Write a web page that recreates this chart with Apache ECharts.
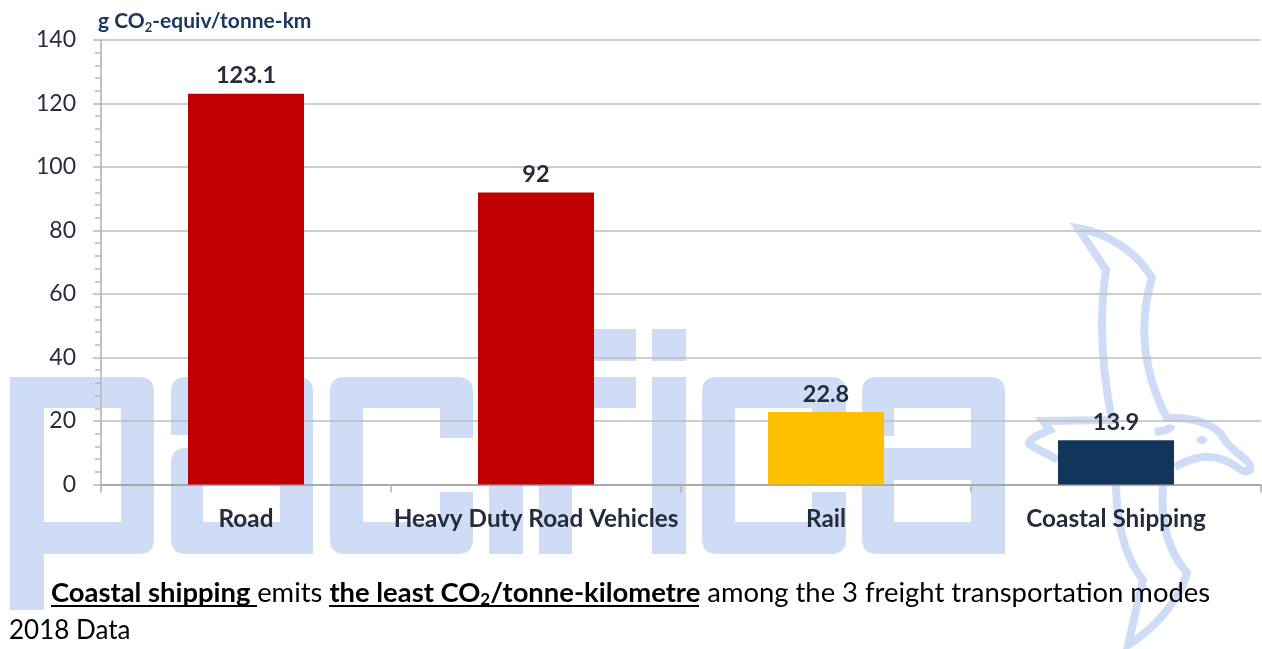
<!DOCTYPE html>
<html>
<head>
<meta charset="utf-8">
<title>CO2 per tonne-km by freight mode</title>
<script src="https://cdn.jsdelivr.net/npm/echarts@6/dist/echarts.min.js"></script>
<style>
  html, body { margin: 0; padding: 0; background: #fff; }
  #wrap { position: relative; width: 1262px; height: 649px; overflow: hidden; }
  #logo, #chart { position: absolute; left: 0; top: 0; width: 1262px; height: 649px; }
</style>
</head>
<body>
<div id="wrap">
  <!-- pacifica watermark, sits behind the transparent chart -->
  <svg id="logo" viewBox="0 0 1262 649">
    <g fill="#cfdcf5" fill-rule="evenodd">
      <path d="M10 377H139Q154 377 154 392V539Q154 554 139 554H44V610H10ZM44 408V522H121V408Z"/>
      <path d="M186 377H298Q313 377 313 392V554H186Q171 554 171 539V463Q171 448 186 448H280V408H203V435H171V392Q171 377 186 377ZM203 480V522H280V480Z"/>
      <path d="M345 377H458Q473 377 473 392V438H440V408H363V522H440V492H473V539Q473 554 458 554H345Q330 554 330 539V392Q330 377 345 377Z"/>
      <path d="M489 329H523V361H489ZM489 377H523V554H489Z"/>
      <path d="M554 329H636V361H572V377H636V408H572V554H539V344Q539 329 554 329Z"/>
      <path d="M652 329H686V361H652ZM652 377H686V554H652Z"/>
      <path d="M717 377H831Q846 377 846 392V438H812V408H735V522H812V492H846V539Q846 554 831 554H717Q702 554 702 539V392Q702 377 717 377Z"/>
      <path d="M877 377H990Q1005 377 1005 392V554H877Q862 554 862 539V463Q862 448 877 448H971V408H894V436H862V392Q862 377 877 377ZM894 480V522H971V480Z"/>
    </g>
    <g fill="none" stroke="#cfdcf5" stroke-width="8" stroke-linejoin="miter" stroke-miterlimit="12">
      <path d="M1058 460C1047 453 1037 450 1029 444C1028 440 1037 435 1050 430L1043 421L1112 420C1100 360 1100 310 1106 270L1078 228C1107 233 1137 252 1152 278C1140 317 1140 367 1167 418C1195 417 1210 423 1220 433C1228 447 1237 452 1248 462C1255 472 1245 474 1237 467C1218 454 1200 453 1175 467"/>
      <path d="M1172 425C1170 431 1160 431 1155 432"/>
      <path d="M1116 485C1117 527 1127 560 1143 580L1128 645C1153 630 1180 600 1187 573C1170 553 1160 527 1163 485"/>
    </g>
    <ellipse cx="1201.7" cy="440" rx="5.5" ry="4" fill="#cfdcf5"/>
  </svg>
  <div id="chart"></div>
</div>
<script>
const categories = ['Road', 'Heavy Duty Road Vehicles', 'Rail', 'Coastal Shipping'];
const emissions = [123.1, 92, 22.8, 13.9];
const barColors = ['#c00000', '#c00000', '#ffc000', '#12355b'];

const FONT = 'Lato, "Open Sans", sans-serif';
const TEXT_DARK = '#252d3c';

const chart = echarts.init(document.getElementById('chart'));

chart.setOption({
    animation: false,
    grid: { left: 101, top: 40, width: 1160, height: 444.5 },
    title: {
        left: 93,
        top: 3,
        text: '{a|g CO}{s|2}{a|-equiv/tonne-km}',
        textStyle: {
            rich: {
                a: { fontFamily: FONT, fontSize: 21, fontWeight: 'bold', color: '#17375e', lineHeight: 26 },
                s: { fontFamily: FONT, fontSize: 13, fontWeight: 'bold', color: '#17375e', lineHeight: 26, verticalAlign: 'bottom' }
            }
        }
    },
    xAxis: {
        type: 'category',
        data: categories,
        axisLine: { lineStyle: { color: '#9d9d9d', width: 1.5 } },
        axisTick: { show: true, length: 8, lineStyle: { color: '#b0b0b0', width: 1.5 } },
        axisLabel: { interval: 0, fontFamily: FONT, fontSize: 24.3, fontWeight: 'bold', color: TEXT_DARK, margin: 23 }
    },
    yAxis: {
        type: 'value',
        min: 0,
        max: 140,
        interval: 20,
        axisLine: { show: true, lineStyle: { color: '#c2c2c2', width: 2 } },
        axisTick: { show: true, length: 8, lineStyle: { color: '#b8b8b8', width: 1.5 } },
        minorTick: { show: true, splitNumber: 5, length: 6, lineStyle: { color: '#b8b8b8', width: 1.5 } },
        axisLabel: { fontFamily: FONT, fontSize: 23, color: TEXT_DARK, margin: 25 },
        splitLine: { show: true, lineStyle: { color: '#bcbcbc', width: 1.5 } }
    },
    series: [{
        type: 'bar',
        barWidth: 116,
        data: emissions.map((v, i) => ({ value: v, itemStyle: { color: barColors[i] } })),
        label: {
            show: true,
            position: 'top',
            distance: 6,
            fontFamily: FONT,
            fontSize: 23.5,
            fontWeight: 'bold',
            color: TEXT_DARK
        }
    }],
    graphic: [
        {
            type: 'text',
            left: 51,
            top: 580,
            style: {
                text: '{b|Coastal shipping }{r|emits }{b|the least CO}{s|2}{b|/tonne-kilometre}{r| among the 3 freight transportation modes}',
                rich: {
                    b: { fontFamily: FONT, fontSize: 27.4, fontWeight: 'bold', fill: '#000', lineHeight: 30 },
                    r: { fontFamily: FONT, fontSize: 27.4, fill: '#000', lineHeight: 30 },
                    s: { fontFamily: FONT, fontSize: 17, fontWeight: 'bold', fill: '#000', lineHeight: 30, verticalAlign: 'bottom' }
                }
            }
        },
        {
            type: 'text',
            left: 9,
            top: 618,
            style: { text: '2018 Data', fontFamily: FONT, fontSize: 26, fill: '#000' }
        },
        { type: 'line', shape: { x1: 51, y1: 606, x2: 257, y2: 606 }, style: { stroke: '#000', lineWidth: 2 } },
        { type: 'line', shape: { x1: 329, y1: 606, x2: 699, y2: 606 }, style: { stroke: '#000', lineWidth: 2 } }
    ]
});
</script>
</body>
</html>
